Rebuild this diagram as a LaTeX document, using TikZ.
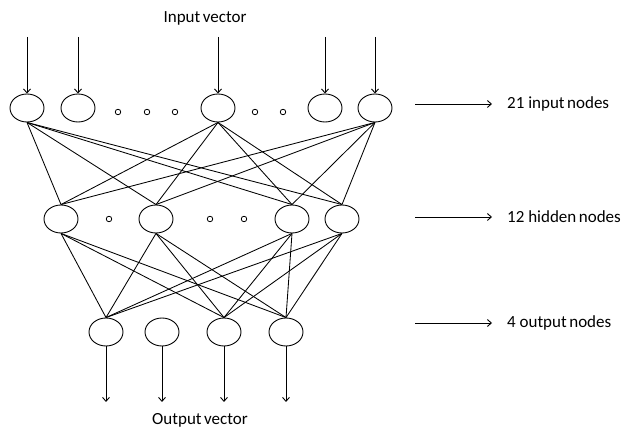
\documentclass[tikz,border=0pt]{standalone}
\usepackage{fontspec}
\setmainfont{Carlito}
\usetikzlibrary{shapes.geometric,arrows.meta}
\tikzset{
  neuron/.style={draw, ellipse, minimum width=34pt, minimum height=28pt, inner sep=0pt, line width=0.9pt},
  dotnode/.style={draw, circle, minimum size=5.5pt, inner sep=0pt, line width=0.8pt},
  link/.style={line width=0.85pt},
  feed/.style={-{Straight Barb[length=4pt,width=7pt]}, line width=0.9pt},
  lbl/.style={font=\fontsize{17}{20}\selectfont, inner sep=0pt},
}
\begin{document}
\begin{tikzpicture}[x=1pt, y=-1pt]
\useasboundingbox (0,0) rectangle (622,427);

% input layer
\node at (27,108) [neuron] (in1) {};
\node at (78,108) [neuron] (in2) {};
\node at (218,108) [neuron] (in3) {};
\node at (325,108) [neuron] (in4) {};
\node at (375,108) [neuron] (in5) {};
\node at (118,112) [dotnode] (ia) {};
\node at (147,112) [dotnode] (ib) {};
\node at (175,112) [dotnode] (ic) {};
\node at (255,112) [dotnode] (id) {};
\node at (283,112) [dotnode] (ie) {};

% hidden layer
\node at (61,219) [neuron] (hid1) {};
\node at (156,219) [neuron] (hid2) {};
\node at (292,219) [neuron] (hid3) {};
\node at (342,219) [neuron] (hid4) {};
\node at (109,219) [dotnode] (ha) {};
\node at (210,219) [dotnode] (hb) {};
\node at (244,219) [dotnode] (hc) {};

% output layer
\node at (106,332) [neuron] (out1) {};
\node at (162,332) [neuron] (out2) {};
\node at (224,332) [neuron] (out3) {};
\node at (286,332) [neuron] (out4) {};

% texts
\node at (205,18) [lbl] (invec) {Input\hspace{0.15em}vector};
\node at (200,420) [lbl] (outvec) {Output\hspace{0.15em}vector};
\node at (507,104) [lbl, anchor=west] (lab1) {21 input\hspace{0.15em}nodes};
\node at (507,217) [lbl, anchor=west] (lab2) {12 hidden\hspace{0.15em}nodes};
\node at (507,323) [lbl, anchor=west] (lab3) {4 output\hspace{0.15em}nodes};

% input arrows
\coordinate (t1) at (27,37);
\coordinate (t2) at (78,37);
\coordinate (t3) at (218,37);
\coordinate (t4) at (325,37);
\coordinate (t5) at (375,37);
\foreach \i in {1,...,5}
  \draw [feed] (t\i) -- (in\i.north);

% output arrows
\coordinate (b1) at (106,402);
\coordinate (b2) at (162,402);
\coordinate (b3) at (224,402);
\coordinate (b4) at (286,402);
\foreach \i in {1,...,4}
  \draw [feed] (out\i.south) -- (b\i);

% weights
\foreach \i in {1,3,5}
  \foreach \j in {1,...,4}
    \draw [link] (in\i.south) -- (hid\j.north);
\foreach \i in {1,...,4}
  \foreach \j in {1,3,4}
    \draw [link] (hid\i.south) -- (out\j.north);

% layer labels
\coordinate (s1) at (415,104);
\coordinate (s2) at (415,217);
\coordinate (s3) at (415,323);
\draw [feed] (s1) -- ([xshift=-15pt]lab1.west);
\draw [feed] (s2) -- ([xshift=-15pt]lab2.west);
\draw [feed] (s3) -- ([xshift=-15pt]lab3.west);
\end{tikzpicture}
\end{document}
